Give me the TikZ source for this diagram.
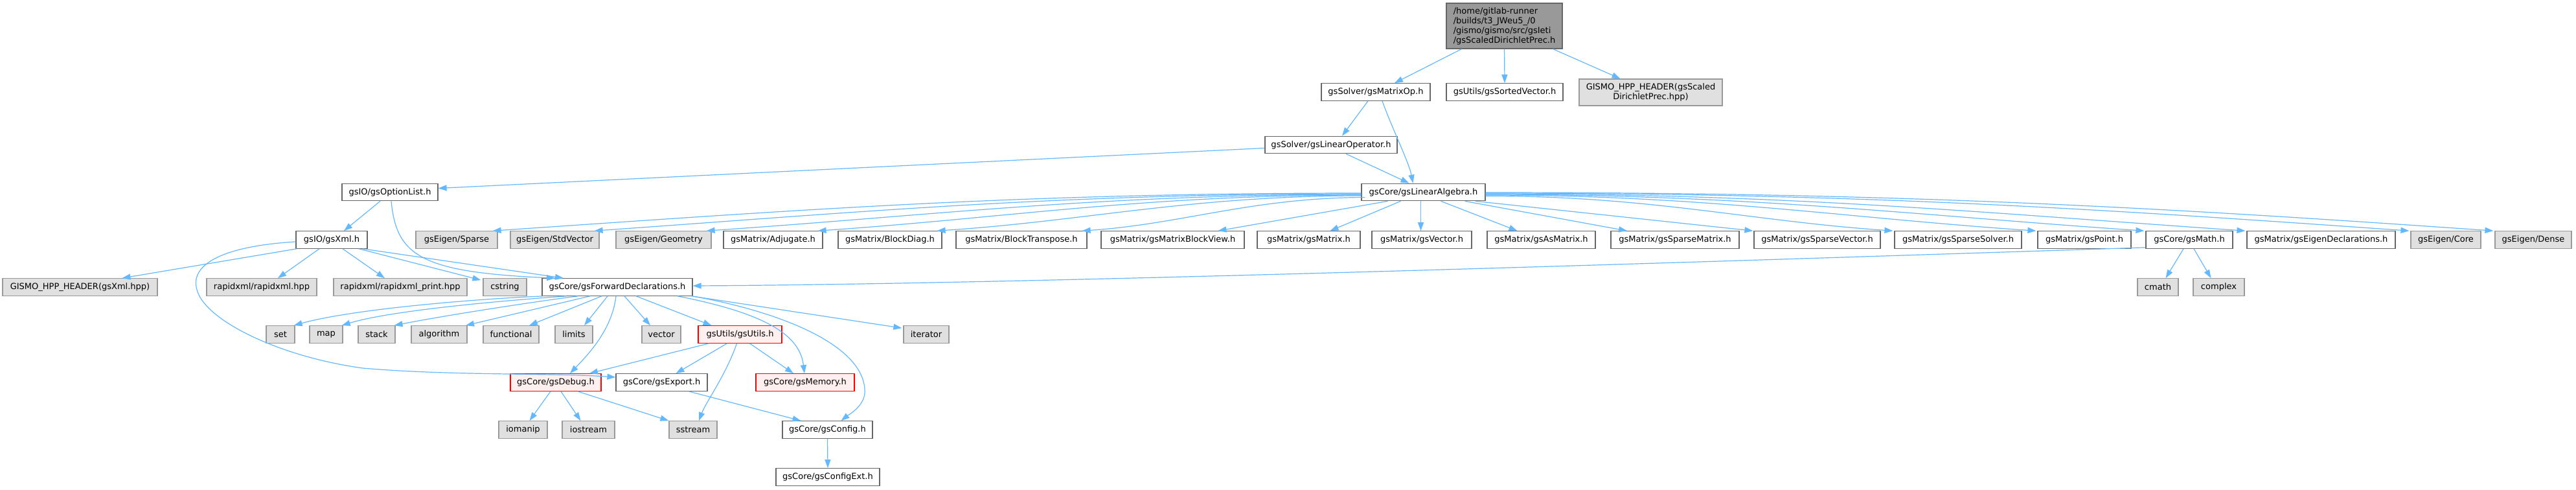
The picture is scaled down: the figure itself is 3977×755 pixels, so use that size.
\documentclass[tikz,border=0pt]{standalone}
\usepackage{fontspec}
\setmainfont{DejaVu Sans}
\usetikzlibrary{arrows.meta}
\definecolor{edgeblue}{HTML}{63B8FF}
\definecolor{nodeborder}{HTML}{666666}
\definecolor{grayborder}{HTML}{999999}
\definecolor{grayfill}{HTML}{E0E0E0}
\definecolor{redfill}{HTML}{FFF0F0}
\definecolor{topfill}{HTML}{999999}
\begin{document}
\begin{tikzpicture}[x=1pt,y=-1pt,
 base/.style={draw, line width=1.2pt, inner xsep=2pt, inner ysep=0pt, minimum height=26.5pt, font=\fontsize{13pt}{15pt}\selectfont, text=black},
 wn/.style={base, draw=nodeborder, fill=white},
 gn/.style={base, draw=grayborder, fill=grayfill},
 rn/.style={base, draw=red, fill=redfill},
 tn/.style={base, draw=nodeborder, fill=topfill, align=left},
 conn/.style={draw=edgeblue, line width=1.2pt, -{Triangle[length=13pt,width=9pt]}}]
\useasboundingbox[fill=white] (0,0) rectangle (3977,755);
% row 0
\node[tn, minimum width=179pt, minimum height=70pt] (top) at (2322.5,40) {/home/gitlab-runner\\/builds/t3\_JWeu5\_/0\\/gismo/gismo/src/gsIeti\\/gsScaledDirichletPrec.h};
% row 1
\node[wn, minimum width=168pt] (mop) at (2124,142) {gsSolver/gsMatrixOp.h};
\node[wn, minimum width=180pt] (sv) at (2323,142) {gsUtils/gsSortedVector.h};
\node[gn, minimum width=221pt, minimum height=41pt, align=center] (ghpp1) at (2548.5,142.5) {GISMO\_HPP\_HEADER(gsScaled\\DirichletPrec.hpp)};
% row 2
\node[wn, minimum width=204pt] (lop) at (2055,223.5) {gsSolver/gsLinearOperator.h};
% row 3
\node[wn, minimum width=148pt] (opt) at (602,296.5) {gsIO/gsOptionList.h};
\node[wn, minimum width=191pt] (la) at (2197.5,296.5) {gsCore/gsLinearAlgebra.h};
% row 4
\node[wn, minimum width=110pt] (xml) at (512,370) {gsIO/gsXml.h};
\node[gn, minimum width=126pt] (esp) at (705,370) {gsEigen/Sparse};
\node[gn, minimum width=137pt] (esv) at (856.5,370) {gsEigen/StdVector};
\node[gn, minimum width=147pt] (egeo) at (1024.5,370) {gsEigen/Geometry};
\node[wn, minimum width=153pt] (adj) at (1193.5,370) {gsMatrix/Adjugate.h};
\node[wn, minimum width=160pt] (bd) at (1374,370) {gsMatrix/BlockDiag.h};
\node[wn, minimum width=202pt] (bt) at (1577,370) {gsMatrix/BlockTranspose.h};
\node[wn, minimum width=221pt] (bv) at (1810.5,370) {gsMatrix/gsMatrixBlockView.h};
\node[wn, minimum width=159pt] (mat) at (2020.5,370) {gsMatrix/gsMatrix.h};
\node[wn, minimum width=154pt] (vec) at (2195,370) {gsMatrix/gsVector.h};
\node[wn, minimum width=167pt] (asm) at (2379.5,370) {gsMatrix/gsAsMatrix.h};
\node[wn, minimum width=198pt] (spm) at (2586,370) {gsMatrix/gsSparseMatrix.h};
\node[wn, minimum width=195pt] (spv) at (2805.5,370) {gsMatrix/gsSparseVector.h};
\node[wn, minimum width=196pt] (sps) at (3023,370) {gsMatrix/gsSparseSolver.h};
\node[wn, minimum width=144pt] (pt) at (3218,370) {gsMatrix/gsPoint.h};
\node[wn, minimum width=134pt] (math) at (3380,370) {gsCore/gsMath.h};
\node[wn, minimum width=229pt] (edecl) at (3583.5,370) {gsMatrix/gsEigenDeclarations.h};
\node[gn, minimum width=108pt] (ecore) at (3776,370) {gsEigen/Core};
\node[gn, minimum width=118pt] (edense) at (3911,370) {gsEigen/Dense};
% row 5
\node[gn, minimum width=239pt] (ghpp2) at (123.5,443) {GISMO\_HPP\_HEADER(gsXml.hpp)};
\node[gn, minimum width=170pt] (rx) at (404,443) {rapidxml/rapidxml.hpp};
\node[gn, minimum width=206pt] (rxp) at (618,443) {rapidxml/rapidxml\_print.hpp};
\node[gn, minimum width=67pt] (cstr) at (779.5,443) {cstring};
\node[wn, minimum width=232pt] (fwd) at (953,443) {gsCore/gsForwardDeclarations.h};
\node[gn, minimum width=63pt] (cmath) at (3331.5,443) {cmath};
\node[gn, minimum width=79pt] (complex) at (3425.5,443) {complex};
% row 6
\node[gn, minimum width=44pt] (set) at (433,516) {set};
\node[gn, minimum width=51pt] (map) at (503.5,516) {map};
\node[gn, minimum width=57pt] (stack) at (581.5,516) {stack};
\node[gn, minimum width=86pt] (algo) at (678,516) {algorithm};
\node[gn, minimum width=86pt] (func) at (789,516) {functional};
\node[gn, minimum width=58pt] (limits) at (886,516) {limits};
\node[gn, minimum width=60pt] (vector) at (1021,516) {vector};
\node[rn, minimum width=129pt] (utils) at (1142.5,516) {gsUtils/gsUtils.h};
\node[gn, minimum width=70pt] (iter) at (1430,516) {iterator};
% row 7
\node[rn, minimum width=140pt] (debug) at (858,590) {gsCore/gsDebug.h};
\node[wn, minimum width=141pt] (export) at (1021.5,590) {gsCore/gsExport.h};
\node[rn, minimum width=152pt] (memory) at (1243,590) {gsCore/gsMemory.h};
% row 8
\node[gn, minimum width=75pt] (iomanip) at (807.5,663) {iomanip};
\node[gn, minimum width=81pt] (iostream) at (908.5,663) {iostream};
\node[gn, minimum width=74pt] (sstream) at (1070,663) {sstream};
\node[wn, minimum width=139pt] (config) at (1277.5,663) {gsCore/gsConfig.h};
% row 9
\node[wn, minimum width=160pt] (configext) at (1278,736) {gsCore/gsConfigExt.h};

% edges from top
\draw[conn] ([xshift=-66pt]top.south) -- ([xshift=29pt]mop.north);
\draw[conn] (top.south) -- (sv.north);
\draw[conn] ([xshift=75pt]top.south) -- ([xshift=-47pt]ghpp1.north);
% matrixop
\draw[conn] ([xshift=-12pt]mop.south) -- ([xshift=17pt]lop.north);
\draw[conn] ([xshift=10pt]mop.south) .. controls (2150,200) and (2175,250) .. ([xshift=-16pt]la.north);
% linear operator
\draw[conn] ([yshift=-5pt]lop.west) -- ([yshift=6pt]opt.east);
\draw[conn] ([xshift=23pt]lop.south) -- ([xshift=-22pt]la.north);
% option list
\draw[conn] ([xshift=-15pt]opt.south) -- ([xshift=19pt]xml.north);
\draw[conn] ([xshift=2pt]opt.south) .. controls (612,395) and (650,420) .. ([xshift=-96pt]fwd.north);
% xml
\draw[conn] ([xshift=48pt]xml.south) -- ([xshift=-83pt]fwd.north);
\draw[conn] ([xshift=-54pt]xml.south) -- ([xshift=65pt]ghpp2.north);
\draw[conn] ([xshift=-19pt]xml.south) -- ([xshift=25pt]rx.north);
\draw[conn] ([xshift=17pt]xml.south) -- ([xshift=-24pt]rxp.north);
\draw[conn] ([xshift=42pt]xml.south) -- ([xshift=-3pt,yshift=-3pt]cstr.north west);
\draw[conn] ([yshift=-3pt]xml.west) .. controls (340,380) and (290,410) .. (305,450) .. controls (320,495) and (430,550) .. (560,568) .. controls (700,580) and (850,575) .. ([yshift=8pt]export.west);
% linear algebra, left side
\draw[conn] ([yshift=-1.5pt]la.west) .. controls (1570,298) and (1234,324) .. ([xshift=-8pt]esp.north east);
\draw[conn] ([yshift=-2.5pt]la.west) .. controls (1628,299) and (1332,327) .. ([xshift=-8pt]esv.north east);
\draw[conn] ([yshift=-3.5pt]la.west) .. controls (1697,300) and (1444,332) .. ([xshift=-8pt]egeo.north east);
\draw[conn] ([yshift=-4.5pt]la.west) .. controls (1766,301) and (1556,336) .. ([xshift=-8pt]adj.north east);
\draw[conn] ([yshift=-5.5pt]la.west) .. controls (1840,302) and (1676,341) .. ([xshift=-8pt]bd.north east);
\draw[conn] ([xshift=6pt,yshift=-8pt]la.west) .. controls (1933,305) and (1823,346) .. ([xshift=-8pt]bt.north east);
\draw[conn] ([xshift=-55pt]la.south) -- ([xshift=70pt]bv.north);
\draw[conn] ([xshift=-35pt]la.south) -- ([xshift=33pt]mat.north);
\draw[conn] ([xshift=-4pt]la.south) -- ([xshift=-1.5pt]vec.north);
\draw[conn] ([xshift=27pt]la.south) -- ([xshift=-37pt]asm.north);
\draw[conn] ([xshift=64pt]la.south) -- ([xshift=-74pt]spm.north);
\draw[conn] ([xshift=80pt]la.south) -- ([xshift=-1pt]spv.north west);
% linear algebra, right side
\draw[conn] ([yshift=-6pt]la.east) .. controls (2545,302) and (2702,341) .. ([xshift=-2pt]sps.north west);
\draw[conn] ([yshift=-4.5pt]la.east) .. controls (2633,301) and (2845,336) .. ([xshift=-2pt]pt.north west);
\draw[conn] ([yshift=-3.5pt]la.east) .. controls (2700,300) and (2955,332) .. ([xshift=-2pt]math.north west);
\draw[conn] ([yshift=-2.5pt]la.east) .. controls (2763,299) and (3056,328) .. ([xshift=-2pt]edecl.north west);
\draw[conn] ([yshift=-1.5pt]la.east) .. controls (2864,298) and (3221,321) .. ([xshift=-2pt]ecore.north west);
\draw[conn] ([yshift=-0.5pt]la.east) .. controls (2916,297) and (3305,318) .. ([xshift=-2pt]edense.north west);
% math
\draw[conn] ([yshift=2pt]math.south west) .. controls (2600,405) and (1600,438) .. ([yshift=2pt]fwd.east);
\draw[conn] ([xshift=-9pt]math.south) -- ([xshift=12pt]cmath.north);
\draw[conn] ([xshift=7pt]math.south) -- ([xshift=-12pt]complex.north);
% forward declarations
\draw[conn] ([xshift=2pt]fwd.south west) .. controls (720,462) and (540,478) .. ([xshift=-2pt]set.north east);
\draw[conn] ([xshift=38pt]fwd.south west) .. controls (760,465) and (600,480) .. ([xshift=-2pt]map.north east);
\draw[conn] ([xshift=56pt]fwd.south west) .. controls (820,466) and (680,488) .. ([xshift=-2pt]stack.north east);
\draw[conn] ([xshift=-42pt]fwd.south) -- ([xshift=41pt]algo.north);
\draw[conn] ([xshift=-24pt]fwd.south) -- ([xshift=28pt]func.north);
\draw[conn] ([xshift=-15pt]fwd.south) -- ([xshift=16pt]limits.north);
\draw[conn] ([xshift=11pt]fwd.south) -- ([xshift=-17pt]vector.north);
\draw[conn] ([xshift=29pt]fwd.south) -- ([xshift=-44pt]utils.north);
\draw[conn] ([xshift=-2pt]fwd.south east) -- ([xshift=-2pt,yshift=-4pt]iter.north west);
\draw[conn] ([xshift=-2pt]fwd.south) .. controls (945,510) and (905,550) .. ([xshift=22pt]debug.north);
\draw[conn] ([xshift=93pt]fwd.south) .. controls (1190,485) and (1235,520) .. ([xshift=-1pt]memory.north);
\draw[conn] ([xshift=-1pt]fwd.south east) .. controls (1200,480) and (1330,530) .. (1335,600) .. controls (1338,625) and (1310,640) .. ([xshift=21pt]config.north);
% utils
\draw[conn] ([xshift=-48pt]utils.south) -- ([xshift=52pt]debug.north);
\draw[conn] ([xshift=-20pt]utils.south) -- ([xshift=22pt]export.north);
\draw[conn] ([xshift=-5pt]utils.south) .. controls (1120,580) and (1090,620) .. ([xshift=9pt]sstream.north);
\draw[conn] ([xshift=15pt]utils.south) -- ([xshift=-18pt]memory.north);
% debug
\draw[conn] ([xshift=-8pt]debug.south) -- ([xshift=10pt]iomanip.north);
\draw[conn] ([xshift=8pt]debug.south) -- ([xshift=-12pt]iostream.north);
\draw[conn] ([xshift=34pt]debug.south) -- (sstream.north west);
% export, config
\draw[conn] ([xshift=42pt]export.south) -- ([xshift=-41pt]config.north);
\draw[conn] (config.south) -- (configext.north);
\end{tikzpicture}
\end{document}
